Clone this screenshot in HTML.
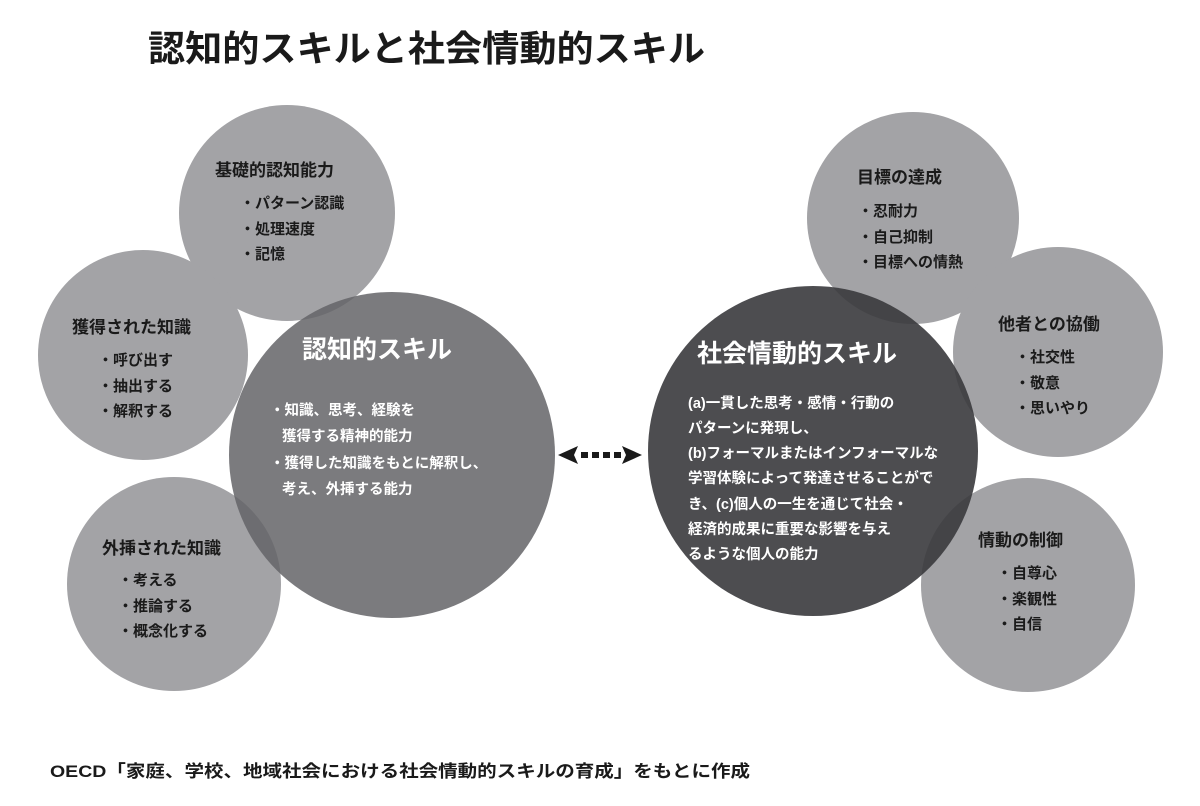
<!DOCTYPE html>
<html><head><meta charset="utf-8"><style>
html,body{margin:0;padding:0;background:#fff;}
svg{display:block;}
text{font-family:"Liberation Sans","Noto Sans CJK JP",sans-serif;font-weight:bold;}
</style></head><body>
<svg width="1200" height="806" viewBox="0 0 1200 806" xmlns="http://www.w3.org/2000/svg">
<rect width="1200" height="806" fill="#fff"/>
<text x="148" y="61" font-size="36" fill="#1a1a1a" textLength="557" lengthAdjust="spacingAndGlyphs">認知的スキルと社会情動的スキル</text>

<g fill="#a3a3a6">
<circle cx="287" cy="213" r="108"/>
<circle cx="143" cy="355" r="105"/>
<circle cx="174" cy="584" r="107"/>
<circle cx="913" cy="218" r="106"/>
<circle cx="1058" cy="352" r="105"/>
<circle cx="1028" cy="585" r="107"/>
</g>
<circle cx="392" cy="455" r="163" fill="#646467" fill-opacity="0.85"/>
<circle cx="813" cy="451" r="165" fill="#3a3a3d" fill-opacity="0.9"/>

<g fill="#1a1a1a">
<polygon points="558,455 578,446 574,455 578,464"/>
<polygon points="642,455 622,446 626,455 622,464"/>
<rect x="581" y="452" width="7" height="6"/>
<rect x="592" y="452" width="7" height="6"/>
<rect x="603" y="452" width="7" height="6"/>
<rect x="614" y="452" width="7" height="6"/>
</g>

<g fill="#1a1a1a" font-size="17">
<text x="215" y="176">基礎的認知能力</text>
<text x="240" y="208" font-size="15">・パターン認識</text>
<text x="240" y="234" font-size="15">・処理速度</text>
<text x="240" y="259" font-size="15">・記憶</text>

<text x="72" y="333">獲得された知識</text>
<text x="98" y="365" font-size="15">・呼び出す</text>
<text x="98" y="391" font-size="15">・抽出する</text>
<text x="98" y="416" font-size="15">・解釈する</text>

<text x="102" y="554">外挿された知識</text>
<text x="118" y="585" font-size="15">・考える</text>
<text x="118" y="611" font-size="15">・推論する</text>
<text x="118" y="636" font-size="15">・概念化する</text>

<text x="857" y="183">目標の達成</text>
<text x="858" y="216" font-size="15">・忍耐力</text>
<text x="858" y="242" font-size="15">・自己抑制</text>
<text x="858" y="267" font-size="15">・目標への情熱</text>

<text x="998" y="330">他者との協働</text>
<text x="1015" y="362" font-size="15">・社交性</text>
<text x="1015" y="388" font-size="15">・敬意</text>
<text x="1015" y="413" font-size="15">・思いやり</text>

<text x="978" y="546">情動の制御</text>
<text x="997" y="578" font-size="15">・自尊心</text>
<text x="997" y="604" font-size="15">・楽観性</text>
<text x="997" y="629" font-size="15">・自信</text>
</g>

<g fill="#fff">
<text x="302" y="358" font-size="25">認知的スキル</text>
<g font-size="14.5">
<text x="270" y="415">・知識、思考、経験を</text>
<text x="282" y="441">獲得する精神的能力</text>
<text x="270" y="468">・獲得した知識をもとに解釈し、</text>
<text x="282" y="494">考え、外挿する能力</text>
</g>
<text x="697" y="362" font-size="25">社会情動的スキル</text>
<g font-size="14.5">
<text x="688" y="408">(a)一貫した思考・感情・行動の</text>
<text x="688" y="433">パターンに発現し、</text>
<text x="688" y="458">(b)フォーマルまたはインフォーマルな</text>
<text x="688" y="483">学習体験によって発達させることがで</text>
<text x="688" y="509">き、(c)個人の一生を通じて社会・</text>
<text x="688" y="534">経済的成果に重要な影響を与え</text>
<text x="688" y="559">るような個人の能力</text>
</g>
</g>

<text x="50" y="777" font-size="17" fill="#1a1a1a" textLength="700" lengthAdjust="spacingAndGlyphs">OECD「家庭、学校、地域社会における社会情動的スキルの育成」をもとに作成</text>
</svg>
</body></html>
